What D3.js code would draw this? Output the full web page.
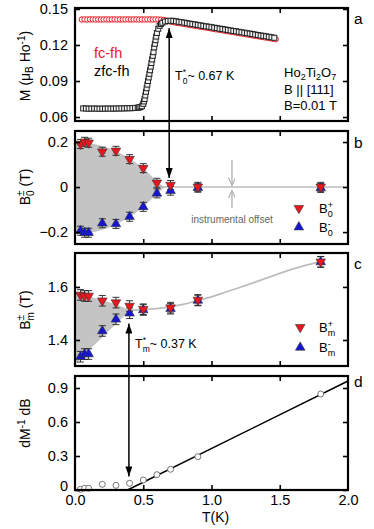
<!DOCTYPE html>
<html>
<head>
<meta charset="utf-8">
<script src="https://cdn.jsdelivr.net/npm/d3@7"></script>
<style>
body { margin: 0; background: #fff; }
text { font-family: "Liberation Sans", Arial, Helvetica, sans-serif; }
</style>
</head>
<body>
<script>
// ---- panel a : magnetisation ----
var zfcT = [0.06,0.08,0.10,0.12,0.14,0.16,0.18,0.20,0.22,0.24,0.26,0.28,0.30,0.32,0.34,0.36,0.38,0.40,0.42,0.44,0.46,
  0.47,0.48,0.49,0.50,0.505,0.51,0.515,0.52,0.525,0.53,0.535,0.54,0.545,0.55,0.555,0.56,0.565,0.57,0.575,0.58,0.585,0.59,0.595,0.60,
  0.61,0.62,0.63,0.64,0.66,0.68,0.70,0.72,0.74,0.76,0.78,0.80,0.82,0.84,0.86,0.88,0.90,0.92,0.94,0.96,0.98,1.00,
  1.02,1.04,1.06,1.08,1.10,1.12,1.14,1.16,1.18,1.20,1.22,1.24,1.26,1.28,1.30,1.32,1.34,1.36,1.38,1.40,1.42,1.44,1.46];
var zfcM = [0.0672,0.0671,0.0670,0.0670,0.0671,0.0670,0.0669,0.0670,0.0670,0.0671,0.0670,0.0670,0.0671,0.0671,0.0672,0.0672,0.0673,0.0673,0.0674,0.0676,0.0678,
  0.0680,0.0683,0.0690,0.0710,0.0730,0.0750,0.0780,0.0810,0.0840,0.0870,0.0900,0.0930,0.0960,0.0990,0.1020,0.1050,0.1080,0.1110,0.1140,0.1180,0.1210,0.1240,0.1270,0.1300,
  0.1335,0.1360,0.1375,0.1385,0.1395,0.1400,0.1402,0.1401,0.1397,0.1393,0.1390,0.1386,0.1382,0.1378,0.1374,0.1371,0.1367,0.1363,0.1359,0.1355,0.1352,0.1348,
  0.1344,0.1340,0.1336,0.1333,0.1329,0.1325,0.1321,0.1317,0.1314,0.1310,0.1306,0.1302,0.1298,0.1295,0.1291,0.1287,0.1283,0.1279,0.1276,0.1272,0.1268,0.1264,0.1260];
var fcT = [0.05,0.07,0.09,0.11,0.13,0.15,0.17,0.19,0.21,0.23,0.25,0.27,0.29,0.31,0.33,0.35,0.37,0.39,0.41,0.43,0.45,0.47,0.49,0.51,0.53,0.55,0.57,0.59,0.61,0.63,0.65,0.67,
  0.69,0.71,0.73,0.75,0.77,0.79,0.81,0.83,0.85,0.87,0.89,0.91,0.93,0.95,0.97,0.99,1.01,1.03,1.05,1.07,1.09,1.11,1.13,1.15,1.17,1.19,1.21,1.23,1.25,1.27,1.29,1.31,1.33,1.35,1.37,1.39,1.41,1.43,1.45,1.47];
var fcM = [0.1412,0.1413,0.1412,0.1413,0.1413,0.1412,0.1413,0.1412,0.1413,0.1413,0.1412,0.1413,0.1413,0.1412,0.1413,0.1412,0.1413,0.1413,0.1412,0.1413,0.1413,0.1412,0.1413,0.1412,0.1413,0.1413,0.1412,0.1413,0.1412,0.1411,0.1408,0.1403,
  0.1398,0.1392,0.1388,0.1384,0.1381,0.1377,0.1373,0.1369,0.1365,0.1362,0.1358,0.1354,0.1350,0.1347,0.1343,0.1339,0.1335,0.1331,0.1328,0.1324,0.1320,0.1316,0.1313,0.1309,0.1305,0.1301,0.1297,0.1294,0.1290,0.1286,0.1282,0.1278,0.1275,0.1271,0.1267,0.1263,0.1260,0.1256,0.1252,0.1248];
var aTicks = [0.06, 0.09, 0.12, 0.15];

// ---- panel b : B0 ----
var bT = [0.04, 0.07, 0.1, 0.2, 0.3, 0.4, 0.5, 0.6, 0.7, 0.9, 1.8];
var b0Plus = [0.191, 0.201, 0.197, 0.157, 0.161, 0.124, 0.084, 0.019, 0.009, 0.001, 0.001];
var b0Minus = [-0.194, -0.203, -0.203, -0.161, -0.164, -0.132, -0.088, -0.028, -0.016, -0.003, -0.004];
var b0Err = [0.02, 0.02, 0.02, 0.02, 0.02, 0.02, 0.02, 0.02, 0.02, 0.02, 0.02];
var bShadeT = [0, 0.1, 0.2, 0.3, 0.4, 0.5, 0.55, 0.6, 0.66];
var bShadeUp = [0.205, 0.197, 0.182, 0.16, 0.127, 0.083, 0.055, 0.025, 0];
var bShadeLo = [-0.21, -0.205, -0.19, -0.166, -0.133, -0.089, -0.06, -0.03, 0];
var bLineT = [0.6, 2.0];
var bLineV = [0, 0];
var bTicks = [-0.2, 0, 0.2];

// ---- panel c : Bm ----
var cT = [0.04, 0.07, 0.1, 0.2, 0.3, 0.4, 0.5, 0.7, 0.9, 1.8];
var bmPlus = [1.570, 1.566, 1.566, 1.548, 1.541, 1.528, 1.516, 1.522, 1.551, 1.695];
var bmMinus = [1.337, 1.347, 1.347, 1.434, 1.478, 1.501, 1.513, 1.518, 1.549, 1.694];
var bmErr = [0.02, 0.02, 0.02, 0.02, 0.02, 0.02, 0.02, 0.02, 0.02, 0.02];
var cShadeT = [0, 0.1, 0.2, 0.3, 0.4];
var cShadeUp = [1.578, 1.565, 1.550, 1.535, 1.512];
var cShadeLo = [1.306, 1.360, 1.410, 1.460, 1.510];
var cLineT = [0.4, 0.5, 0.6, 0.7, 0.8, 0.9, 1.0, 1.1, 1.2, 1.3, 1.4, 1.5, 1.6, 1.7, 1.8];
var cLineV = [1.512, 1.515, 1.518, 1.525, 1.535, 1.549, 1.563, 1.580, 1.597, 1.615, 1.633, 1.651, 1.668, 1.683, 1.696];
var cTicks = [1.4, 1.6];

// ---- panel d : dM^-1 dB ----
var dT = [0.04, 0.07, 0.1, 0.2, 0.3, 0.4, 0.5, 0.6, 0.7, 0.9, 1.8];
var dV = [0.006, 0.015, 0.015, 0.05, 0.041, 0.059, 0.088, 0.135, 0.183, 0.294, 0.847];
var dFitT = [0.385, 2.0];
var dFitV = [0, 0.962];
var dTicks = [0, 0.3, 0.6, 0.9];

var xTicks = [0.5, 1.0, 1.5];
var xLabels = [0, 0.5, 1.0, 1.5, 2.0];

var T0 = 0.69, Tm = 0.395;

var W = 374, H = 529;
var left = 75, right = 348;
var red = '#e8161e', blue = '#1515d2', shade = '#c4c4c4', lineGray = '#bdbdbd';

var svg = d3.select('body').append('svg').attr('width', W).attr('height', H);

var defs = svg.append('defs');
defs.append('marker').attr('id', 'head').attr('viewBox', '0 0 10 7')
  .attr('refX', 10).attr('refY', 3.5).attr('markerWidth', 10).attr('markerHeight', 7)
  .attr('markerUnits', 'userSpaceOnUse').attr('orient', 'auto-start-reverse')
  .append('path').attr('d', 'M0,0L10,3.5L0,7Z').attr('fill', '#000');
defs.append('marker').attr('id', 'ghead').attr('viewBox', '0 0 10 8')
  .attr('refX', 9).attr('refY', 4).attr('markerWidth', 9).attr('markerHeight', 7)
  .attr('markerUnits', 'userSpaceOnUse').attr('orient', 'auto')
  .append('path').attr('d', 'M0,0L9,4L0,8').attr('fill', 'none').attr('stroke', '#aaa').attr('stroke-width', 1.2);

var x = d3.scaleLinear().domain([0, 2]).range([left, right]);

var ya = d3.scaleLinear().domain([0.0567, 0.1508]).range([121, 8]);
var yb = d3.scaleLinear().domain([-0.253, 0.249]).range([244, 131]);
var yc = d3.scaleLinear().domain([1.302, 1.728]).range([366, 253]);
var yd = d3.scaleLinear().domain([0, 1.006]).range([490, 376]);

function frame(y, ticks, fmt, showX) {
  var g = svg.append('g');
  var r = y.range();
  g.append('g').attr('transform', 'translate(' + left + ',0)')
    .call(d3.axisLeft(y).tickValues(ticks).tickSize(-5).tickPadding(7).tickFormat(fmt));
  g.append('g').attr('transform', 'translate(' + right + ',0)')
    .call(d3.axisRight(y).tickValues(ticks).tickSize(-5).tickFormat(''));
  g.append('g').attr('transform', 'translate(0,' + r[1] + ')')
    .call(d3.axisTop(x).tickValues(xTicks).tickSize(-5).tickFormat(''));
  var bx = g.append('g').attr('transform', 'translate(0,' + r[0] + ')');
  if (showX) {
    bx.call(d3.axisBottom(x).tickValues(xLabels).tickSize(-5).tickPadding(5).tickFormat(d3.format('.1f')));
    bx.selectAll('.tick').filter(function(d) { return d === 0 || d === 2; }).select('line').remove();
  } else {
    bx.call(d3.axisBottom(x).tickValues(xTicks).tickSize(-5).tickFormat(''));
  }
  g.selectAll('.domain').remove();
  g.selectAll('.tick line').attr('stroke', '#000').attr('stroke-width', 1.6);
  g.selectAll('.tick text').attr('font-size', 14.5).attr('fill', '#000')
    .style('font-family', '"Liberation Sans", Arial, sans-serif');
  g.append('rect').attr('x', left).attr('y', r[1]).attr('width', right - left).attr('height', r[0] - r[1])
    .attr('fill', 'none').attr('stroke', '#000').attr('stroke-width', 2.2);
  return g;
}

function tri(g, xs, ys, color, down) {
  var sym = d3.symbol().type(d3.symbolTriangle).size(40);
  g.selectAll(null).data(xs).enter().append('path')
    .attr('d', sym)
    .attr('transform', function(d, i) {
      return 'translate(' + x(d) + ',' + ys(i) + ')' + (down ? ' rotate(180)' : '');
    })
    .attr('fill', color).attr('stroke', '#333').attr('stroke-width', 0.6);
}

function errs(g, xs, vals, err, y) {
  xs.forEach(function(t, i) {
    var x0 = x(t), y1 = y(vals[i] + err[i]), y2 = y(vals[i] - err[i]);
    g.append('line').attr('x1', x0).attr('x2', x0).attr('y1', y1).attr('y2', y2)
      .attr('stroke', '#222').attr('stroke-width', 0.9);
    [y1, y2].forEach(function(yy) {
      g.append('line').attr('x1', x0 - 3.5).attr('x2', x0 + 3.5).attr('y1', yy).attr('y2', yy)
        .attr('stroke', '#222').attr('stroke-width', 0.9);
    });
  });
}

function stacked(txt, base, sup, sub, size, small) {
  txt.append('tspan').text(base);
  var s = txt.append('tspan').text(sup).attr('font-size', small).attr('dy', -size * 0.42);
  var w = s.node().getComputedTextLength();
  txt.append('tspan').text(sub).attr('font-size', small).attr('dx', -w).attr('dy', size * 0.72);
  return txt.append('tspan').attr('dy', -size * 0.30);
}

// ================= panel a =================
var ga = svg.append('g');
ga.selectAll('circle').data(fcT).enter().append('circle')
  .attr('cx', function(d) { return x(d); })
  .attr('cy', function(d, i) { return ya(fcM[i]); })
  .attr('r', 2.7).attr('fill', '#fff').attr('stroke', red).attr('stroke-width', 1);
ga.selectAll('rect').data(zfcT).enter().append('rect')
  .attr('x', function(d) { return x(d) - 2.5; })
  .attr('y', function(d, i) { return ya(zfcM[i]) - 2.5; })
  .attr('width', 5).attr('height', 5)
  .attr('fill', '#f2f2f2').attr('stroke', '#222').attr('stroke-width', 1);
frame(ya, aTicks, d3.format('.2f'), false);

svg.append('text').attr('x', 94).attr('y', 58).attr('font-size', 14.5).attr('fill', red).text('fc-fh');
svg.append('text').attr('x', 94).attr('y', 76).attr('font-size', 14.5).attr('fill', '#000').text('zfc-fh');

var tt = svg.append('text').attr('x', 175).attr('y', 80).attr('font-size', 12.5);
stacked(tt, 'T', '*', '0', 12.5, 8.5).text('~ 0.67 K');

var ho = svg.append('text').attr('x', 284).attr('y', 77).attr('font-size', 13);
ho.append('tspan').text('Ho');
ho.append('tspan').text('2').attr('font-size', 9).attr('dy', 3);
ho.append('tspan').text('Ti').attr('dy', -3);
ho.append('tspan').text('2').attr('font-size', 9).attr('dy', 3);
ho.append('tspan').text('O').attr('dy', -3);
ho.append('tspan').text('7').attr('font-size', 9).attr('dy', 3);
svg.append('text').attr('x', 284).attr('y', 94).attr('font-size', 13).text('B || [111]');
svg.append('text').attr('x', 284).attr('y', 110).attr('font-size', 13).text('B=0.01 T');

// ================= panel b =================
var gb = svg.append('g');
var areaB = d3.area().x(function(d) { return x(d); })
  .y0(function(d, i) { return yb(bShadeLo[i]); }).y1(function(d, i) { return yb(bShadeUp[i]); })
  .curve(d3.curveMonotoneX);
gb.append('path').attr('d', areaB(bShadeT)).attr('fill', shade);
gb.append('path').attr('d', d3.line().x(function(d) { return x(d); }).y(function(d, i) { return yb(bLineV[i]); })(bLineT))
  .attr('stroke', lineGray).attr('stroke-width', 1.6).attr('fill', 'none');
errs(gb, bT, b0Plus, b0Err, yb);
errs(gb, bT, b0Minus, b0Err, yb);
tri(gb, bT, function(i) { return yb(b0Minus[i]); }, blue, false);
tri(gb, bT, function(i) { return yb(b0Plus[i]); }, red, true);
frame(yb, bTicks, function(d) { return d === 0 ? '0' : d3.format('.1f')(d); }, false);

// instrumental offset arrows
svg.append('line').attr('x1', x(1.15)).attr('x2', x(1.15)).attr('y1', yb(0.12)).attr('y2', yb(0.007))
  .attr('stroke', '#aaa').attr('stroke-width', 1.2).attr('marker-end', 'url(#ghead)');
svg.append('line').attr('x1', x(1.15)).attr('x2', x(1.15)).attr('y1', yb(-0.093)).attr('y2', yb(-0.015))
  .attr('stroke', '#aaa').attr('stroke-width', 1.2).attr('marker-end', 'url(#ghead)');
svg.append('text').attr('x', x(1.15)).attr('y', yb(-0.16)).attr('text-anchor', 'middle')
  .attr('font-size', 10).attr('fill', '#666').text('instrumental offset');

// legend b
tri(svg, [1.64], function() { return yb(-0.094); }, red, true);
tri(svg, [1.64], function() { return yb(-0.178); }, blue, false);
stacked(svg.append('text').attr('x', 319).attr('y', yb(-0.094) + 5).attr('font-size', 13), 'B', '+', '0', 13, 9);
stacked(svg.append('text').attr('x', 319).attr('y', yb(-0.178) + 5).attr('font-size', 13), 'B', '-', '0', 13, 9);

// ================= panel c =================
var gc = svg.append('g');
var areaC = d3.area().x(function(d) { return x(d); })
  .y0(function(d, i) { return yc(cShadeLo[i]); }).y1(function(d, i) { return yc(cShadeUp[i]); });
gc.append('path').attr('d', areaC(cShadeT)).attr('fill', shade);
gc.append('path').attr('d', d3.line().x(function(d) { return x(d); }).y(function(d, i) { return yc(cLineV[i]); })
  .curve(d3.curveMonotoneX)(cLineT))
  .attr('stroke', lineGray).attr('stroke-width', 1.8).attr('fill', 'none');
errs(gc, cT, bmPlus, bmErr, yc);
errs(gc, cT, bmMinus, bmErr, yc);
tri(gc, cT, function(i) { return yc(bmMinus[i]); }, blue, false);
tri(gc, cT, function(i) { return yc(bmPlus[i]); }, red, true);
frame(yc, cTicks, d3.format('.1f'), false);

var tm = svg.append('text').attr('x', 135).attr('y', 348).attr('font-size', 12.5);
stacked(tm, 'T', '*', 'm', 12.5, 8.5).text('~ 0.37 K');

// legend c
tri(svg, [1.65], function() { return yc(1.448); }, red, true);
tri(svg, [1.65], function() { return yc(1.372); }, blue, false);
stacked(svg.append('text').attr('x', 319).attr('y', yc(1.448) + 5).attr('font-size', 13), 'B', '+', 'm', 13, 9);
stacked(svg.append('text').attr('x', 319).attr('y', yc(1.372) + 5).attr('font-size', 13), 'B', '-', 'm', 13, 9);

// ================= panel d =================
var gd = svg.append('g');
gd.append('path').attr('d', d3.line().x(function(d) { return x(d); }).y(function(d, i) { return yd(dFitV[i]); })(dFitT))
  .attr('stroke', '#000').attr('stroke-width', 1.5).attr('fill', 'none');
gd.selectAll('circle').data(dT).enter().append('circle')
  .attr('cx', function(d) { return x(d); })
  .attr('cy', function(d, i) { return yd(dV[i]); })
  .attr('r', 3).attr('fill', '#fff').attr('stroke', '#666').attr('stroke-width', 0.9);
var fd = frame(yd, dTicks, function(d) { return d === 0 ? '0' : d3.format('.1f')(d); }, true);
// lift the "0" of the left axis a little so it clears the "0.0" below it
fd.selectAll('.tick text').filter(function(d) { return d === 0 && this.getAttribute('x') < 0; })
  .attr('dy', '0.05em');

svg.append('text').attr('x', x(1.03)).attr('y', 522).attr('text-anchor', 'middle').attr('font-size', 14).text('T(K)');

// ================= arrows =================
svg.append('line').attr('x1', x(T0)).attr('x2', x(T0)).attr('y1', ya(0.134)).attr('y2', yb(0.04))
  .attr('stroke', '#000').attr('stroke-width', 1.5)
  .attr('marker-start', 'url(#head)').attr('marker-end', 'url(#head)');
svg.append('line').attr('x1', x(Tm)).attr('x2', x(Tm)).attr('y1', yc(1.462)).attr('y2', yd(0.12))
  .attr('stroke', '#000').attr('stroke-width', 1.5)
  .attr('marker-start', 'url(#head)').attr('marker-end', 'url(#head)');

// ================= panel letters =================
[['a', 24], ['b', 148], ['c', 269], ['d', 387]].forEach(function(p) {
  svg.append('text').attr('x', 354).attr('y', p[1]).attr('font-size', 15.5).text(p[0]);
});

// ================= y labels =================
function ylab(cy) {
  return svg.append('text').attr('transform', 'translate(30,' + cy + ') rotate(-90)')
    .attr('text-anchor', 'middle').attr('font-size', 14);
}
var la = ylab(66);
la.append('tspan').text('M (\u03bc');
la.append('tspan').text('B').attr('font-size', 10).attr('dy', 3);
la.append('tspan').text(' Ho').attr('dy', -3);
la.append('tspan').text('-1').attr('font-size', 10).attr('dy', -5);
la.append('tspan').text(')').attr('dy', 5);

stacked(ylab(187), 'B', '\u00b1', '0', 14, 10).text(' (T)');
stacked(ylab(310), 'B', '\u00b1', 'm', 14, 10).text(' (T)');

var ld = ylab(423);
ld.append('tspan').text('dM');
ld.append('tspan').text('-1').attr('font-size', 10).attr('dy', -5);
ld.append('tspan').text(' dB').attr('dy', 5);
</script>
</body>
</html>
